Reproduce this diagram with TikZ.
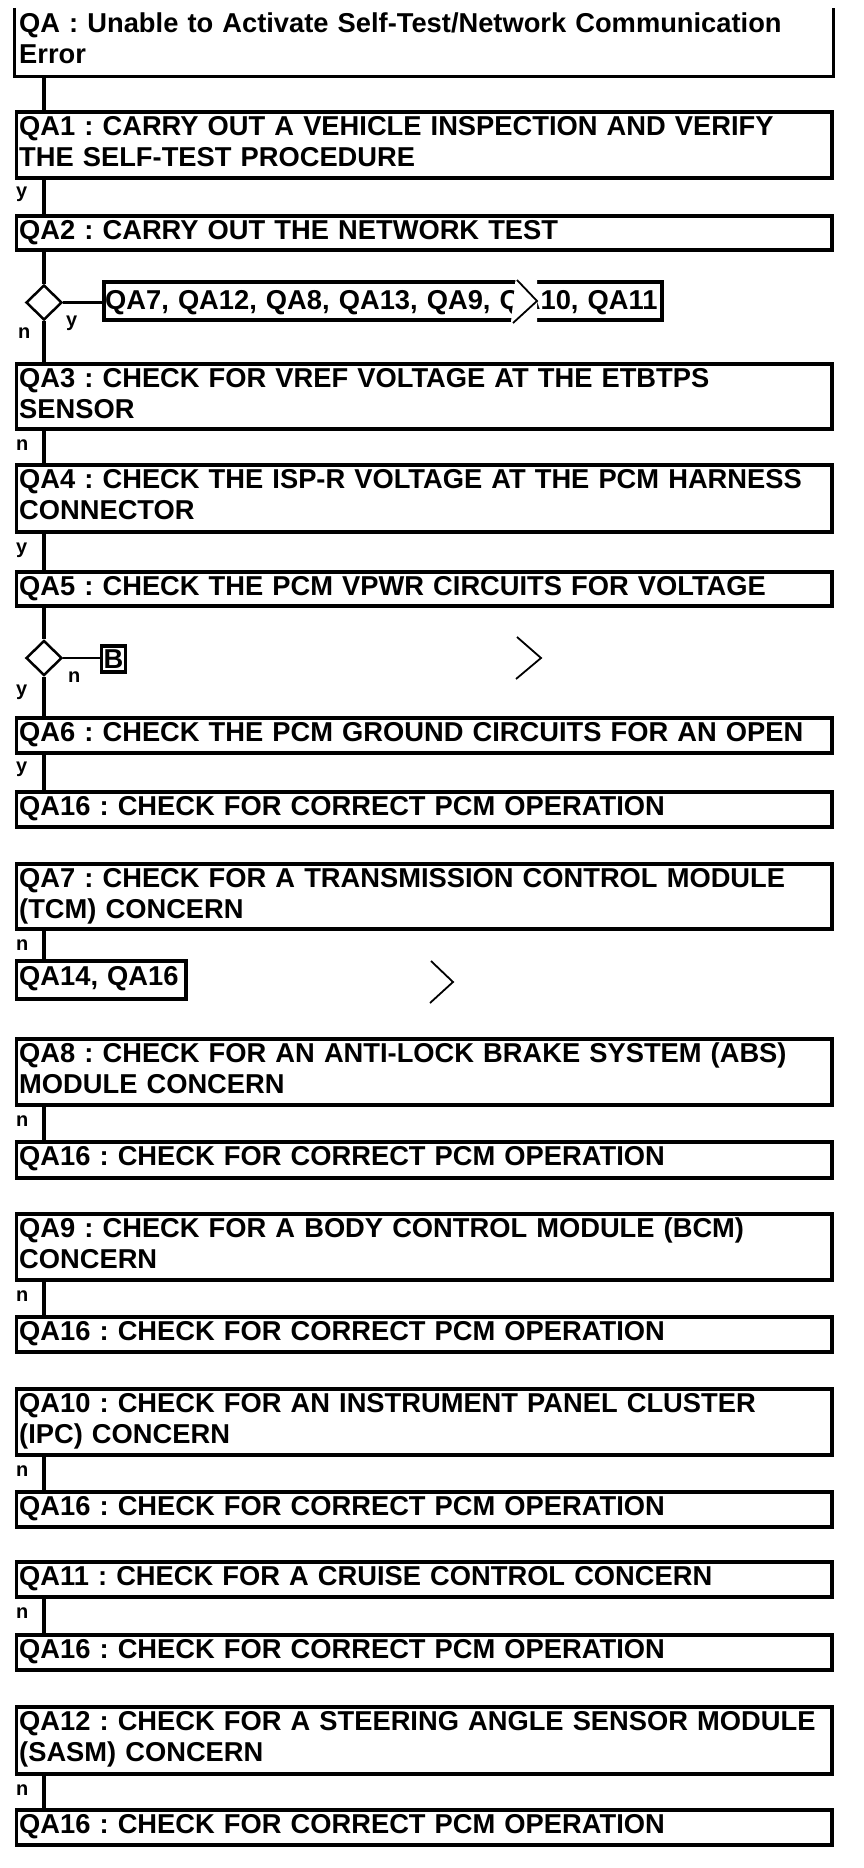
\documentclass[tikz,border=0pt]{standalone}
\usepackage{fontspec}
\setmainfont{Liberation Sans}
\usetikzlibrary{shapes.geometric}
\frenchspacing
\hyphenpenalty=10000
\tikzset{
  boxline/.style={line width=3.5pt},
  qbox/.style={draw, boxline, minimum width=815.5pt, inner sep=0pt, anchor=north west},
  qtext/.style={anchor=base west, inner sep=0pt, text width=840pt, align=left, font=\bfseries\fontsize{27.3}{31}\selectfont\frenchspacing},
  conn/.style={line width=3.5pt},
  side/.style={line width=2.2pt},
  dec/.style={draw, diamond, minimum width=36pt, minimum height=35pt, inner sep=0pt, line width=2.5pt, fill=white},
  lab/.style={anchor=base west, inner sep=0pt, font=\bfseries\fontsize{20}{22}\selectfont},
  chev/.style={line width=1.8pt},
}
\newcommand\qstep[4]{%
  \node[qbox, minimum height=#3pt] (#1) at (14.5,#2) {};
  \node[qtext] (#1t) at ([shift={(4.5,25)}]#1.north west) {#4};}
\begin{document}
\begin{tikzpicture}[x=1pt,y=-1pt]
\useasboundingbox (0,0) rectangle (864,1868);
\coordinate (sp) at (44,0);
% top box, open at the top
\node[qbox, draw=none, minimum height=65pt] (qa) at (14.5,8) {};
\draw[boxline] (qa.north west) -- (qa.south west) -- (qa.south east) -- (qa.north east);
\node[qtext] (qat) at ([shift={(4.5,25)}]qa.north west) {QA : Unable to Activate Self-Test/Network Communication\\Error};
\qstep{qa1}{110}{66}{QA1 : CARRY OUT A VEHICLE INSPECTION AND VERIFY\\THE SELF-TEST PROCEDURE}
\qstep{qa2}{214}{34}{QA2 : CARRY OUT THE NETWORK TEST}
\node[dec] (d1) at (44,302.5) {};
\node[qbox, minimum width=558pt, minimum height=38pt] (lst) at (102,280) {};
\node[qtext] (lstt) at ([shift={(3,29)}]lst.north west) {QA7, QA12, QA8, QA13, QA9, QA10, QA11};
\qstep{qa3}{362}{65}{QA3 : CHECK FOR VREF VOLTAGE AT THE ETBTPS\\SENSOR}
\qstep{qa4}{463}{67}{QA4 : CHECK THE ISP-R VOLTAGE AT THE PCM HARNESS\\CONNECTOR}
\qstep{qa5}{570}{34}{QA5 : CHECK THE PCM VPWR CIRCUITS FOR VOLTAGE}
\node[dec] (d2) at (44,658) {};
\node[draw, boxline, minimum width=24pt, minimum height=26pt, inner sep=0pt, font=\bfseries\fontsize{27.3}{31}\selectfont] (bb) at (113.5,659) {B};
\qstep{qa6}{716}{35}{QA6 : CHECK THE PCM GROUND CIRCUITS FOR AN OPEN}
\qstep{qa16a}{790}{35}{QA16 : CHECK FOR CORRECT PCM OPERATION}
\qstep{qa7}{862}{65}{QA7 : CHECK FOR A TRANSMISSION CONTROL MODULE\\(TCM) CONCERN}
\node[qbox, minimum width=169.5pt, minimum height=38pt] (qa14) at (14.5,959) {};
\node[qtext] (qa14t) at ([shift={(4.5,26)}]qa14.north west) {QA14, QA16};
\qstep{qa8}{1037}{66}{QA8 : CHECK FOR AN ANTI-LOCK BRAKE SYSTEM (ABS)\\MODULE CONCERN}
\qstep{qa16b}{1140}{36}{QA16 : CHECK FOR CORRECT PCM OPERATION}
\qstep{qa9}{1212}{66}{QA9 : CHECK FOR A BODY CONTROL MODULE (BCM)\\CONCERN}
\qstep{qa16c}{1315}{35}{QA16 : CHECK FOR CORRECT PCM OPERATION}
\qstep{qa10}{1387}{66}{QA10 : CHECK FOR AN INSTRUMENT PANEL CLUSTER\\(IPC) CONCERN}
\qstep{qa16d}{1490}{35}{QA16 : CHECK FOR CORRECT PCM OPERATION}
\qstep{qa11}{1560}{35}{QA11 : CHECK FOR A CRUISE CONTROL CONCERN}
\qstep{qa16e}{1633}{35}{QA16 : CHECK FOR CORRECT PCM OPERATION}
\qstep{qa12}{1705}{67}{QA12 : CHECK FOR A STEERING ANGLE SENSOR MODULE\\(SASM) CONCERN}
\qstep{qa16f}{1808}{35}{QA16 : CHECK FOR CORRECT PCM OPERATION}
% connectors
\draw[conn] (sp |- qa.south) -- (sp |- qa1.north);
\draw[conn] (sp |- qa1.south) -- (sp |- qa2.north);
\draw[conn] (sp |- qa2.south) -- (d1.north);
\draw[conn] (d1.south) -- (sp |- qa3.north);
\draw[side] (d1.east) -- (d1.east -| lst.west);
\draw[conn] (sp |- qa3.south) -- (sp |- qa4.north);
\draw[conn] (sp |- qa4.south) -- (sp |- qa5.north);
\draw[conn] (sp |- qa5.south) -- (d2.north);
\draw[conn] (d2.south) -- (sp |- qa6.north);
\draw[side] (d2.east) -- (d2.east -| bb.west);
\draw[conn] (sp |- qa6.south) -- (sp |- qa16a.north);
\draw[conn] (sp |- qa7.south) -- (sp |- qa14.north);
\draw[conn] (sp |- qa8.south) -- (sp |- qa16b.north);
\draw[conn] (sp |- qa9.south) -- (sp |- qa16c.north);
\draw[conn] (sp |- qa10.south) -- (sp |- qa16d.north);
\draw[conn] (sp |- qa11.south) -- (sp |- qa16e.north);
\draw[conn] (sp |- qa12.south) -- (sp |- qa16f.north);
% labels
\node[lab] (l1) at (16,197) {y};
\node[lab] (l2) at (66,326) {y};
\node[lab] (l3) at (18,338) {n};
\node[lab] (l4) at (16,450) {n};
\node[lab] (l5) at (16,553) {y};
\node[lab] (l6) at (68,682) {n};
\node[lab] (l7) at (16,695) {y};
\node[lab] (l8) at (16,772) {y};
\node[lab] (l9) at (16,950) {n};
\node[lab] (l10) at (16,1126) {n};
\node[lab] (l11) at (16,1301) {n};
\node[lab] (l12) at (16,1476) {n};
\node[lab] (l13) at (16,1618) {n};
\node[lab] (l14) at (16,1795) {n};
% page-break chevrons
\fill[white] (516,275) -- (537,275) -- (537,322) -- (511,322) -- cycle;
\draw[chev] (517,280) -- (537,301) -- (513,323);
\draw[chev] (517,637) -- (541,658) -- (516,679);
\draw[chev] (431,961) -- (453,982) -- (430,1003);
\end{tikzpicture}
\end{document}
